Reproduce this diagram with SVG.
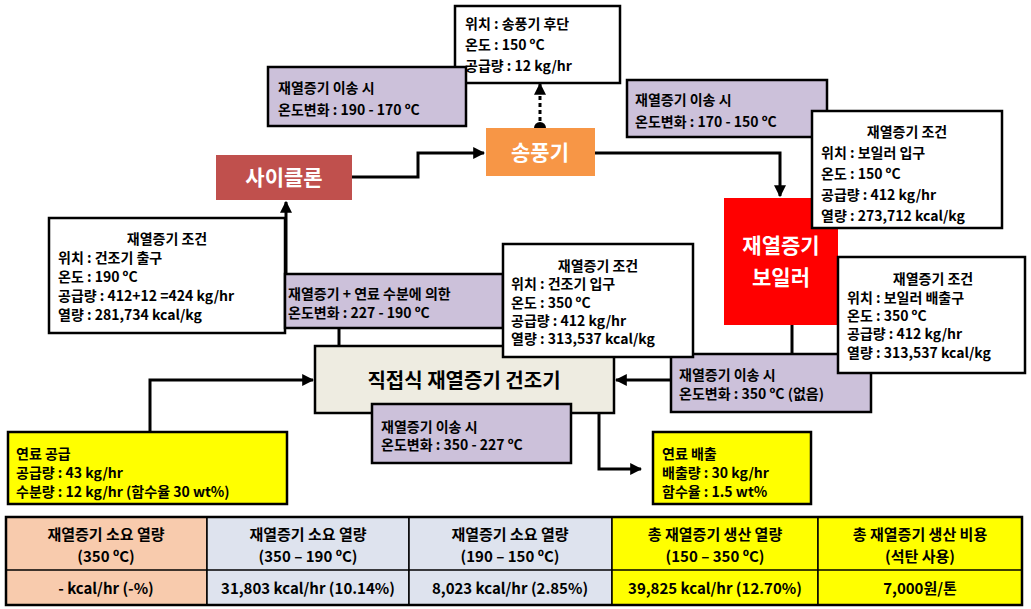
<svg xmlns="http://www.w3.org/2000/svg" width="1031" height="609" viewBox="0 0 1031 609">
<style>
text{font-family:"Noto Sans CJK KR","Noto Sans",sans-serif;font-weight:bold;font-size:14px;fill:#000}
.w{fill:#fff;stroke:#000;stroke-width:2.5}
.p{fill:#ccc1da;stroke:#000;stroke-width:2.5}
.y{fill:#ffff00;stroke:#000;stroke-width:2.5}
.c{stroke:#000;stroke-width:3;fill:none}
.big{font-size:21px;fill:#fff}
.t{font-size:15px;text-anchor:middle}
.m{text-anchor:middle}
</style>
<defs>
<marker id="a" viewBox="0 0 10 10" refX="9" refY="5" markerWidth="4" markerHeight="4" orient="auto"><path d="M0,0L10,5L0,10z" fill="#000"/></marker>
<marker id="d" viewBox="0 0 10 10" refX="5" refY="5" markerWidth="4" markerHeight="4"><circle cx="5" cy="5" r="5" fill="#000"/></marker>
</defs>
<g id="connectors">
<path class="c" d="M352,177H418V153H484" marker-end="url(#a)"/>
<path class="c" d="M595,153H780V196" marker-end="url(#a)"/>
<path class="c" d="M540,128V84" stroke-dasharray="4,3" marker-start="url(#d)" marker-end="url(#a)"/>
<path class="c" d="M286,274V202" marker-end="url(#a)"/>
<path class="c" d="M339,328V346"/>
<path class="c" d="M792,325V354"/>
<path class="c" d="M671,380H616" marker-end="url(#a)"/>
<path class="c" d="M150,432V380H313" marker-end="url(#a)"/>
<path class="c" d="M599,413V469H641" marker-end="url(#a)"/>
</g>
<g id="blowerInfo"><rect class="w" x="455" y="6" width="165" height="77"/>
<text x="465" y="29">위치 : 송풍기 후단</text><text x="465" y="50">온도 : 150 ºC</text><text x="465" y="71">공급량 : 12 kg/hr</text></g>
<g id="trans1"><rect class="p" x="268" y="67" width="198" height="59"/>
<text x="278" y="93">재열증기 이송 시</text><text x="278" y="115">온도변화 : 190 - 170 ºC</text></g>
<g id="trans2"><rect class="p" x="627" y="80" width="200" height="57"/>
<text x="635" y="105">재열증기 이송 시</text><text x="635" y="127">온도변화 : 170 - 150 ºC</text></g>
<g id="blower"><rect x="486" y="128" width="109" height="48" fill="#f79646"/><text class="big m" x="540" y="160">송풍기</text></g>
<g id="cyclone"><rect x="216" y="155" width="136" height="45" fill="#c0504d"/><text class="big m" x="284" y="185">사이클론</text></g>
<g id="boiler"><rect x="724" y="198" width="114" height="127" fill="#ff0000"/><text class="big m" x="781" y="253">재열증기</text><text class="big m" x="781" y="285">보일러</text></g>
<g id="cond1"><rect class="w" x="812" y="111" width="190" height="117"/>
<text class="m" x="907" y="137">재열증기 조건</text><text x="821" y="158">위치 : 보일러 입구</text><text x="821" y="179">온도 : 150 ºC</text><text x="821" y="200">공급량 : 412 kg/hr</text><text x="821" y="221">열량 : 273,712 kcal/kg</text></g>
<g id="cond2"><rect class="w" x="49" y="218" width="236" height="115"/>
<text class="m" x="167" y="244">재열증기 조건</text><text x="58" y="263">위치 : 건조기 출구</text><text x="58" y="282">온도 : 190 ºC</text><text x="58" y="301">공급량 : 412+12 =424 kg/hr</text><text x="58" y="320">열량 : 281,734 kcal/kg</text></g>
<g id="trans3"><rect class="p" x="285" y="274" width="218" height="54"/>
<text x="288" y="299">재열증기 + 연료 수분에 의한</text><text x="288" y="318">온도변화 : 227 - 190 ºC</text></g>
<g id="trans4"><rect class="p" x="671" y="354" width="200" height="58"/>
<text x="679" y="380">재열증기 이송 시</text><text x="679" y="399">온도변화 : 350 ºC (없음)</text></g>
<g id="dryer"><rect x="315" y="346" width="299" height="67" fill="#eeece1" stroke="#000" stroke-width="2.5"/><text class="m" x="464" y="388" style="font-size:20px">직접식 재열증기 건조기</text></g>
<g id="cond3"><rect class="w" x="503" y="244" width="190" height="113"/>
<text class="m" x="598" y="271">재열증기 조건</text><text x="511" y="289">위치 : 건조기 입구</text><text x="511" y="308">온도 : 350 ºC</text><text x="511" y="326">공급량 : 412 kg/hr</text><text x="511" y="344">열량 : 313,537 kcal/kg</text></g>
<g id="cond4"><rect class="w" x="838" y="257" width="187" height="116"/>
<text class="m" x="933" y="284">재열증기 조건</text><text x="847" y="303">위치 : 보일러 배출구</text><text x="847" y="321">온도 : 350 ºC</text><text x="847" y="339">공급량 : 412 kg/hr</text><text x="847" y="358">열량 : 313,537 kcal/kg</text></g>
<g id="trans5"><rect class="p" x="372" y="404" width="199" height="59"/>
<text x="381" y="432">재열증기 이송 시</text><text x="381" y="450">온도변화 : 350 - 227 ºC</text></g>
<g id="fuelIn"><rect class="y" x="8" y="432" width="279" height="72"/>
<text x="16" y="459">연료 공급</text><text x="16" y="478">공급량 : 43 kg/hr</text><text x="16" y="497">수분량 : 12 kg/hr (함수율 30 wt%)</text></g>
<g id="fuelOut"><rect class="y" x="653" y="432" width="158" height="72"/>
<text x="662" y="459">연료 배출</text><text x="662" y="478">배출량 : 30 kg/hr</text><text x="662" y="497">함수율 : 1.5 wt%</text></g>
<g id="table" stroke="#000" stroke-width="1.5">
<rect x="6" y="517" width="201" height="88" fill="#f8cbad"/>
<rect x="207" y="517" width="202" height="88" fill="#dee3ee"/>
<rect x="409" y="517" width="203" height="88" fill="#dee3ee"/>
<rect x="612" y="517" width="206" height="88" fill="#ffff00"/>
<rect x="818" y="517" width="204" height="88" fill="#ffff00"/>
<path d="M6,570H1022"/>
<rect x="6" y="517" width="1016" height="88" fill="none" stroke-width="2.5"/>
</g>
<g id="tableText">
<text class="t" x="106" y="540">재열증기 소요 열량</text><text class="t" x="106" y="562">(350 ºC)</text><text class="t" x="106" y="594">- kcal/hr (-%)</text>
<text class="t" x="308" y="540">재열증기 소요 열량</text><text class="t" x="308" y="562">(350 – 190 ºC)</text><text class="t" x="308" y="594">31,803 kcal/hr (10.14%)</text>
<text class="t" x="510" y="540">재열증기 소요 열량</text><text class="t" x="510" y="562">(190 – 150 ºC)</text><text class="t" x="510" y="594">8,023 kcal/hr (2.85%)</text>
<text class="t" x="715" y="540">총 재열증기 생산 열량</text><text class="t" x="715" y="562">(150 – 350 ºC)</text><text class="t" x="715" y="594">39,825 kcal/hr (12.70%)</text>
<text class="t" x="920" y="540">총 재열증기 생산 비용</text><text class="t" x="920" y="562">(석탄 사용)</text><text class="t" x="920" y="594">7,000원/톤</text>
</g>
</svg>
